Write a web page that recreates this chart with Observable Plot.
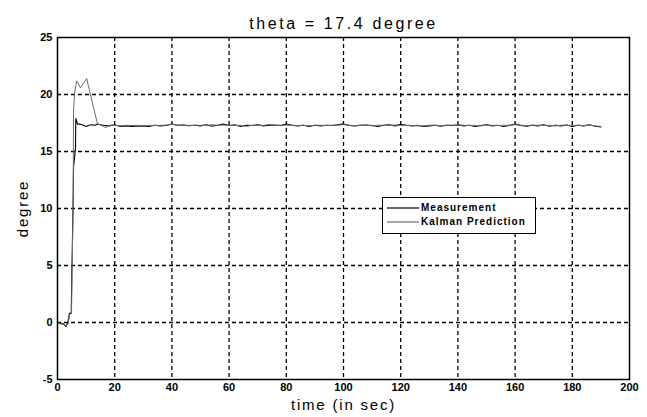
<!DOCTYPE html>
<html>
<head>
<meta charset="utf-8">
<script src="https://cdn.jsdelivr.net/npm/d3@7"></script>
<script src="https://cdn.jsdelivr.net/npm/@observablehq/plot@0.6"></script>
<style>
  html, body { margin: 0; padding: 0; background: #fff; }
  #wrap { position: relative; width: 647px; height: 417px; font-family: "Liberation Sans", Arial, sans-serif; }
  #legend { position: absolute; left: 382px; top: 197px; width: 152px; height: 35px; border: 1px solid #000; background: #fff;
            font: bold 10px "Liberation Sans", Arial, sans-serif; letter-spacing: 1px; }
  #legend .row { position: absolute; left: 4px; height: 13px; display: flex; align-items: center; }
  #legend .row svg { margin-right: 2px; }
</style>
</head>
<body>
<div id="wrap"></div>
<script>
const title = "theta = 17.4 degree";
const xLabel = "time (in sec)";
const yLabel = "degree";
const seriesNames = ["Measurement", "Kalman Prediction"];
const xTicks = [0, 20, 40, 60, 80, 100, 120, 140, 160, 180, 200];
const yTicks = [-5, 0, 5, 10, 15, 20, 25];

// Measurement (black)
const measTime = [0, 1, 2, 3, 3.6, 4.2, 4.8, 5.0, 5.1, 5.5, 5.6, 6.3, 6.4, 7, 8, 9, 10, 11, 12, 13, 14,
  16, 18, 20, 22, 24, 26, 28, 30, 32, 34, 36, 38, 40, 42, 44, 46, 48, 50, 52, 54, 56, 58, 60,
  62, 64, 66, 68, 70, 72, 74, 76, 78, 80, 82, 84, 86, 88, 90, 92, 94, 96, 98, 100,
  102, 104, 106, 108, 110, 112, 114, 116, 118, 120, 122, 124, 126, 128, 130, 132, 134, 136, 138, 140,
  142, 144, 146, 148, 150, 152, 154, 156, 158, 160, 162, 164, 166, 168, 170, 172, 174, 176, 178, 180,
  182, 184, 186, 188, 190];
const measValue = [0, -0.1, -0.1, -0.35, 0.0, 0.8, 0.8, 4.3, 5.4, 11.2, 13.6, 15.3, 17.9, 17.4, 17.4, 17.3, 17.2, 17.3, 17.35, 17.3, 17.4,
  17.3, 17.25, 17.35, 17.2, 17.25, 17.2, 17.22, 17.25, 17.2, 17.3, 17.25, 17.28, 17.42, 17.3, 17.32, 17.28, 17.3, 17.25, 17.35, 17.22, 17.3, 17.4, 17.28,
  17.35, 17.2, 17.3, 17.28, 17.35, 17.25, 17.3, 17.32, 17.28, 17.4, 17.3, 17.25, 17.3, 17.2, 17.3, 17.25, 17.3, 17.28, 17.35, 17.42,
  17.28, 17.25, 17.3, 17.32, 17.28, 17.2, 17.3, 17.35, 17.25, 17.38, 17.3, 17.25, 17.28, 17.2, 17.25, 17.3, 17.22, 17.3, 17.28, 17.35,
  17.25, 17.3, 17.2, 17.28, 17.35, 17.25, 17.3, 17.2, 17.28, 17.4, 17.28, 17.22, 17.3, 17.25, 17.35, 17.22, 17.3, 17.25, 17.32, 17.2,
  17.3, 17.25, 17.35, 17.22, 17.15];

// Kalman prediction (gray)
const kalTime = [0, 1, 2, 3, 3.8, 4.2, 4.9, 5.1, 5.5, 5.6, 6.0, 6.7, 8.0, 10.2, 14, 15, 16, 17,
  18, 20, 22, 24, 26, 28, 30, 32, 34, 36, 38, 40, 42, 44, 46, 48, 50, 52, 54, 56, 58, 60,
  62, 64, 66, 68, 70, 72, 74, 76, 78, 80, 82, 84, 86, 88, 90, 92, 94, 96, 98, 100,
  102, 104, 106, 108, 110, 112, 114, 116, 118, 120, 122, 124, 126, 128, 130, 132, 134, 136, 138, 140,
  142, 144, 146, 148, 150, 152, 154, 156, 158, 160, 162, 164, 166, 168, 170, 172, 174, 176, 178, 180,
  182, 184, 186, 188, 190];
const kalValue = [0, -0.1, -0.15, -0.3, -0.1, 0.7, 0.8, 4.3, 11.0, 18.6, 20.2, 21.2, 20.6, 21.4, 17.4, 17.35, 17.2, 17.1,
  17.3, 17.3, 17.25, 17.3, 17.28, 17.3, 17.25, 17.3, 17.28, 17.3, 17.32, 17.38, 17.3, 17.3, 17.25, 17.3, 17.3, 17.28, 17.35, 17.3, 17.32, 17.3,
  17.28, 17.3, 17.2, 17.3, 17.3, 17.28, 17.38, 17.3, 17.3, 17.32, 17.3, 17.28, 17.3, 17.25, 17.3, 17.3, 17.28, 17.3, 17.3, 17.35,
  17.3, 17.28, 17.3, 17.3, 17.25, 17.3, 17.3, 17.28, 17.32, 17.3, 17.3, 17.28, 17.3, 17.25, 17.3, 17.3, 17.28, 17.3, 17.3, 17.32,
  17.3, 17.28, 17.3, 17.25, 17.3, 17.3, 17.28, 17.3, 17.3, 17.35, 17.3, 17.28, 17.3, 17.3, 17.28, 17.3, 17.25, 17.3, 17.3, 17.28,
  17.3, 17.28, 17.3, 17.25, 17.2];

const meas = measTime.map((t, i) => ({t, v: measValue[i]}));
const kal = kalTime.map((t, i) => ({t, v: kalValue[i]}));

const chart = Plot.plot({
  width: 647,
  height: 417,
  marginLeft: 57,
  marginRight: 18,
  marginTop: 37,
  marginBottom: 38,
  style: { fontFamily: "'Liberation Sans', Arial, sans-serif", background: "#fff", color: "#000" },
  x: { domain: [0, 200], ticks: xTicks, label: null },
  y: { domain: [-5, 25], ticks: yTicks, label: null },
  marks: [
    Plot.gridX(xTicks.slice(1, -1), { stroke: "#000", strokeOpacity: 1, strokeWidth: 1.3, strokeDasharray: "4,3" }),
    Plot.gridY(yTicks.slice(1, -1), { stroke: "#000", strokeOpacity: 1, strokeWidth: 1.3, strokeDasharray: "4,3" }),
    Plot.line(meas, { x: "t", y: "v", stroke: "#000", strokeWidth: 1.1 }),
    Plot.line(kal, { x: "t", y: "v", stroke: "#6e6e6e", strokeWidth: 1 }),
    Plot.frame({ stroke: "#000", strokeWidth: 1.5 }),
    Plot.axisX(xTicks, { anchor: "bottom", tickSize: 0, tickPadding: 4, fontSize: 11, fontWeight: "bold",
      tickFormat: d => String(d),
      label: xLabel, labelAnchor: "center", labelArrow: "none", labelOffset: 30 }),
    Plot.axisY(yTicks, { anchor: "left", tickSize: 0, tickPadding: 5, fontSize: 11, fontWeight: "bold",
      tickFormat: d => String(d),
      label: yLabel, labelAnchor: "center", labelArrow: "none", labelOffset: 40 }),
    Plot.text([title], { frameAnchor: "top", dy: -20, fontSize: 16, fill: "#000" })
  ]
});

chart.querySelectorAll("g[aria-label='x-axis label'] text, g[aria-label='y-axis label'] text").forEach(t => {
  t.setAttribute("font-size", "15");
  t.setAttribute("font-weight", "normal");
  t.style.fontWeight = "normal";
  t.style.fontSize = "15px";
  t.style.letterSpacing = "1.8px";
});
chart.querySelectorAll("text").forEach(t => {
  if (t.textContent === title) t.style.letterSpacing = "2.6px";
});

const wrap = document.getElementById("wrap");
wrap.appendChild(chart);

// Legend
const legend = document.createElement("div");
legend.id = "legend";
const colors = ["#000", "#6e6e6e"];
seriesNames.forEach((name, i) => {
  const row = document.createElement("div");
  row.className = "row";
  row.style.top = (3 + i * 14) + "px";
  row.innerHTML = `<svg width="32" height="4"><line x1="0" y1="2" x2="32" y2="2" stroke="${colors[i]}" stroke-width="1.2"/></svg><span>${name}</span>`;
  legend.appendChild(row);
});
wrap.appendChild(legend);
</script>
</body>
</html>
